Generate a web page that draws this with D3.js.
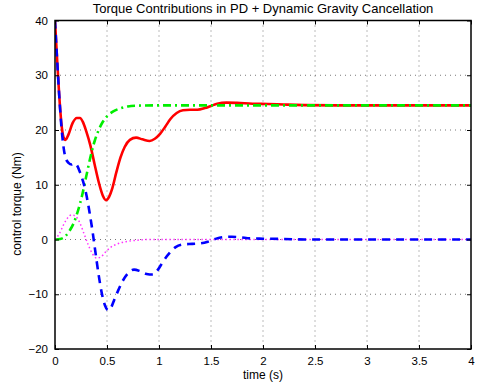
<!DOCTYPE html>
<html>
<head>
<meta charset="utf-8">
<script src="https://cdn.jsdelivr.net/npm/d3@7"></script>
<style>
  html, body { margin: 0; padding: 0; background: #fff; }
  svg text { font-family: "Liberation Sans", Arial, Helvetica, sans-serif; fill: #000; }
</style>
</head>
<body>
<svg id="chart" width="477" height="388"></svg>
<script>
// Total torque (solid red)
const totalT = [0,0.02,0.04,0.06,0.08,0.10,0.13,0.17,0.21,0.24,0.27,0.30,0.34,0.38,0.42,0.46,0.49,0.52,0.55,0.59,0.63,0.67,0.72,0.78,0.84,0.91,0.96,1.01,1.06,1.11,1.17,1.23,1.30,1.37,1.44,1.50,1.56,1.65,1.75,1.90,2.05,2.20,2.40,2.70,4.0];
const totalV = [40,33,26.5,21.5,18.8,18.2,19.2,21.3,22.2,22.2,21.4,19.8,17.2,13.8,10.5,8.0,7.2,7.8,9.3,12.3,15.0,16.9,18.2,18.6,18.3,18.0,18.4,19.3,20.6,22.0,23.1,23.6,23.7,23.7,24.0,24.4,24.8,25.0,24.95,24.8,24.75,24.65,24.55,24.5,24.5];

// Gravity term (green dash-dot)
const gravT = [0,0.05,0.10,0.14,0.18,0.22,0.26,0.30,0.34,0.38,0.42,0.46,0.51,0.56,0.62,0.70,0.80,0.95,4.0];
const gravV = [0,0.1,0.6,1.6,3.0,5.2,8.0,11.5,15.0,17.9,20.0,21.5,22.7,23.4,23.9,24.3,24.45,24.5,24.5];

// PD term (blue dashed)
const pdT = [0,0.02,0.04,0.06,0.08,0.10,0.13,0.16,0.19,0.21,0.24,0.27,0.30,0.33,0.36,0.39,0.42,0.45,0.48,0.51,0.54,0.57,0.61,0.65,0.70,0.76,0.82,0.88,0.94,0.99,1.04,1.10,1.16,1.23,1.32,1.40,1.47,1.54,1.62,1.70,1.78,1.88,2.00,2.20,2.40,4.0];
const pdV = [40,33,26.5,21,17.2,15.0,14.0,13.7,13.9,13.6,12.3,10.6,8.3,5.2,1.6,-2.5,-6.5,-9.8,-12.0,-12.9,-12.4,-11.0,-9.2,-7.6,-6.2,-5.5,-5.8,-6.3,-6.4,-5.5,-4.0,-2.5,-1.4,-0.9,-0.8,-0.7,-0.4,0.1,0.45,0.5,0.4,0.2,0.15,0.1,0.0,0];

// Dynamic term (magenta dotted)
const dynT = [0,0.04,0.08,0.12,0.16,0.20,0.24,0.28,0.32,0.36,0.40,0.44,0.48,0.53,0.60,0.68,0.78,0.90,4.0];
const dynV = [0,1.0,2.6,3.9,4.5,4.2,3.0,1.0,-1.0,-2.6,-3.4,-3.2,-2.4,-1.5,-0.8,-0.4,-0.15,0,0];

const xTicks = [0,0.5,1,1.5,2,2.5,3,3.5,4];
const xTickLabels = ["0","0.5","1","1.5","2","2.5","3","3.5","4"];
const yTicks = [-20,-10,0,10,20,30,40];
const yTickLabels = ["\u221220","\u221210","0","10","20","30","40"];

const titleText = "Torque Contributions in PD + Dynamic Gravity Cancellation";
const xLabelText = "time (s)";
const yLabelText = "control torque (Nm)";

const plotL = 55, plotR = 471, plotT = 20.5, plotB = 349;
const svg = d3.select("#chart");

const x = d3.scaleLinear().domain([0, 4]).range([plotL, plotR]);
const y = d3.scaleLinear().domain([-20, 40]).range([plotB, plotT]);

// grid
const grid = svg.append("g").attr("stroke", "#555").attr("stroke-width", 0.8).attr("stroke-dasharray", "1,4");
grid.selectAll(".gx").data(xTicks.slice(1, -1)).join("line")
  .attr("x1", d => x(d)).attr("x2", d => x(d)).attr("y1", plotT).attr("y2", plotB);
grid.selectAll(".gy").data(yTicks.slice(1, -1)).join("line")
  .attr("y1", d => y(d)).attr("y2", d => y(d)).attr("x1", plotL).attr("x2", plotR);

// series
svg.append("clipPath").attr("id", "plotclip").append("rect")
  .attr("x", plotL).attr("y", plotT).attr("width", plotR - plotL).attr("height", plotB - plotT);

function drawSeries(ts, vs, color, width, dash) {
  const pts = ts.map((t, i) => [t, vs[i]]);
  const line = d3.line().x(d => x(d[0])).y(d => y(d[1])).curve(d3.curveMonotoneX);
  svg.append("path").datum(pts)
    .attr("clip-path", "url(#plotclip)")
    .attr("d", line).attr("fill", "none")
    .attr("stroke", color).attr("stroke-width", width)
    .attr("stroke-dasharray", dash)
    .attr("stroke-linejoin", "round");
}
drawSeries(totalT, totalV, "#ff0000", 2.6, null);
drawSeries(gravT, gravV, "#00ee00", 2.6, "8,4,2,4");
drawSeries(dynT, dynV, "#ff33ff", 1.5, "1.5,2.5");
drawSeries(pdT, pdV, "#0000ff", 2.6, "8,6");

// axes
const axB = d3.axisBottom(x).tickValues(xTicks).tickFormat((d, i) => xTickLabels[i]).tickSizeInner(-4).tickSizeOuter(0).tickPadding(8);
const axL = d3.axisLeft(y).tickValues(yTicks).tickFormat((d, i) => yTickLabels[i]).tickSizeInner(-4).tickSizeOuter(0).tickPadding(7);
const axT = d3.axisTop(x).tickValues(xTicks).tickFormat("").tickSizeInner(-4).tickSizeOuter(0);
const axR = d3.axisRight(y).tickValues(yTicks).tickFormat("").tickSizeInner(-4).tickSizeOuter(0);

function styleAxis(g) {
  g.select(".domain").remove();
  g.selectAll(".tick line").attr("stroke", "#000").attr("stroke-width", 1);
  g.selectAll(".tick text").attr("font-size", 11.5);
}
svg.append("g").attr("transform", `translate(0,${plotB})`).call(axB).call(styleAxis);
svg.append("g").attr("transform", `translate(${plotL},0)`).call(axL).call(styleAxis);
svg.append("g").attr("transform", `translate(0,${plotT})`).call(axT).call(styleAxis);
svg.append("g").attr("transform", `translate(${plotR},0)`).call(axR).call(styleAxis);

svg.append("rect").attr("x", plotL).attr("y", plotT).attr("width", plotR - plotL).attr("height", plotB - plotT)
  .attr("fill", "none").attr("stroke", "#000").attr("stroke-width", 1.5);

// labels
svg.append("text").attr("x", (plotL + plotR) / 2).attr("y", 13).attr("text-anchor", "middle")
  .attr("font-size", 13).text(titleText);
svg.append("text").attr("x", (plotL + plotR) / 2).attr("y", 379).attr("text-anchor", "middle")
  .attr("font-size", 12).text(xLabelText);
svg.append("text").attr("transform", `translate(21,204) rotate(-90)`)
  .attr("text-anchor", "middle").attr("font-size", 12).text(yLabelText);
</script>
</body>
</html>
